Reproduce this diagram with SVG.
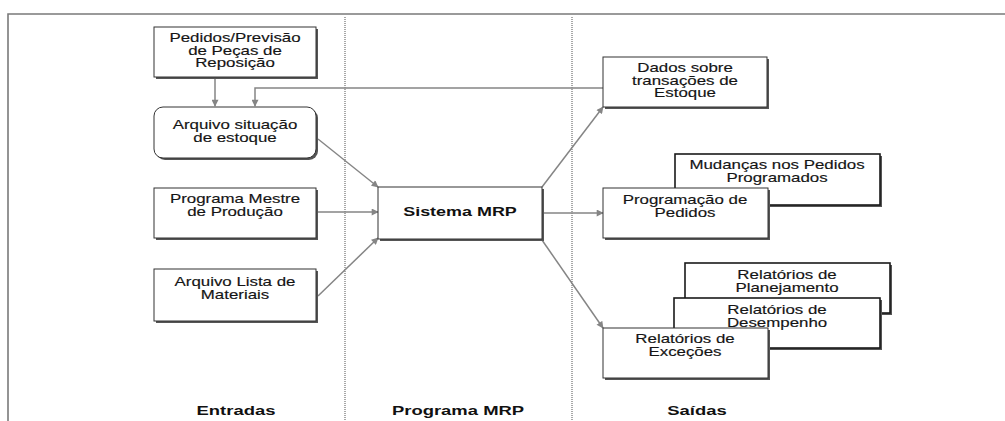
<svg xmlns="http://www.w3.org/2000/svg" width="1005" height="421" viewBox="0 0 1005 421">
<style>
.bg{fill:#ffffff}
.frame{stroke:#7a7a7a;stroke-width:1.6;fill:none}
.sep{stroke:#a8a8a8;stroke-width:2;stroke-dasharray:1 1;fill:none}
.sh{fill:#555555}
.box{fill:#ffffff;stroke:#333333;stroke-width:1}
.bk{fill:#ffffff;stroke:#1a1a1a;stroke-width:1.6}
.t{font-family:"Liberation Sans",Arial,sans-serif;font-size:12.5px;fill:#151515;stroke:#151515;stroke-width:0.15;text-anchor:middle}
.b{font-family:"Liberation Sans",Arial,sans-serif;font-size:13px;font-weight:bold;fill:#111111;text-anchor:middle}
.c{stroke:#858585;stroke-width:1.5;fill:none}
</style>
<defs>
<marker id="ah" viewBox="0 0 10 10" refX="9" refY="5" markerWidth="8" markerHeight="7" markerUnits="userSpaceOnUse" orient="auto">
<path d="M0,0 L10,5 L0,10 z" fill="#858585"/>
</marker>
</defs>
<rect class="bg" x="0" y="0" width="1005" height="421"/>
<g id="frame">
<path class="frame" d="M8,421 V14 H1005"/>
<line class="sep" x1="345" y1="17" x2="345" y2="421"/>
<line class="sep" x1="572" y1="17" x2="572" y2="421"/>
</g>
<g id="connectors">
<line class="c" x1="215" y1="78" x2="215" y2="106" marker-end="url(#ah)"/>
<path class="c" d="M603,88 H255 V106" marker-end="url(#ah)"/>
<line class="c" x1="318" y1="139" x2="378" y2="187" marker-end="url(#ah)"/>
<line class="c" x1="318" y1="212" x2="378" y2="212" marker-end="url(#ah)"/>
<line class="c" x1="318" y1="296" x2="378" y2="238" marker-end="url(#ah)"/>
<line class="c" x1="542" y1="187" x2="603" y2="107" marker-end="url(#ah)"/>
<line class="c" x1="544" y1="213" x2="603" y2="213" marker-end="url(#ah)"/>
<line class="c" x1="542" y1="240" x2="603" y2="328" marker-end="url(#ah)"/>
</g>
<g id="n-pedidos">
<rect class="sh" x="156" y="29" width="162" height="50"/>
<rect class="box" x="154" y="27" width="162" height="50"/>
<text class="t" transform="translate(235,42) scale(1.35,1)">Pedidos/Previsão</text>
<text class="t" transform="translate(235,54.5) scale(1.35,1)">de Peças de</text>
<text class="t" transform="translate(235,67) scale(1.35,1)">Reposição</text>
</g>
<g id="n-arquivo-estoque">
<rect class="sh" x="156" y="109" width="162" height="51" rx="9"/>
<rect class="box" x="154" y="107" width="162" height="51" rx="9"/>
<text class="t" transform="translate(235,129) scale(1.35,1)">Arquivo situação</text>
<text class="t" transform="translate(235,141.5) scale(1.35,1)">de estoque</text>
</g>
<g id="n-mestre">
<rect class="sh" x="156" y="190" width="162" height="50"/>
<rect class="box" x="154" y="188" width="162" height="50"/>
<text class="t" transform="translate(235,203) scale(1.35,1)">Programa Mestre</text>
<text class="t" transform="translate(235,215.5) scale(1.35,1)">de Produção</text>
</g>
<g id="n-lista">
<rect class="sh" x="156" y="271" width="162" height="52"/>
<rect class="box" x="154" y="269" width="162" height="52"/>
<text class="t" transform="translate(235,286) scale(1.35,1)">Arquivo Lista de</text>
<text class="t" transform="translate(235,298.5) scale(1.35,1)">Materiais</text>
</g>
<g id="n-mrp">
<rect class="sh" x="380" y="189" width="164" height="52"/>
<rect class="box" x="378" y="187" width="164" height="52"/>
<text class="b" transform="translate(460,216) scale(1.38,1)">Sistema MRP</text>
</g>
<g id="n-dados">
<rect class="sh" x="605" y="59" width="164" height="50"/>
<rect class="box" x="603" y="57" width="164" height="50"/>
<text class="t" transform="translate(685,72) scale(1.35,1)">Dados sobre</text>
<text class="t" transform="translate(685,84.5) scale(1.35,1)">transações de</text>
<text class="t" transform="translate(685,97) scale(1.35,1)">Estoque</text>
</g>
<g id="n-mudancas">
<rect class="sh" x="677" y="156" width="205" height="51"/>
<rect class="bk" x="675" y="154" width="205" height="51"/>
<text class="t" transform="translate(777,169) scale(1.35,1)">Mudanças nos Pedidos</text>
<text class="t" transform="translate(777,181.5) scale(1.35,1)">Programados</text>
</g>
<g id="n-programacao">
<rect class="sh" x="605" y="190" width="165" height="50"/>
<rect class="box" x="603" y="188" width="165" height="50"/>
<text class="t" transform="translate(685,204) scale(1.35,1)">Programação de</text>
<text class="t" transform="translate(685,216.5) scale(1.35,1)">Pedidos</text>
</g>
<g id="n-planejamento">
<rect class="sh" x="687" y="265" width="205" height="50"/>
<rect class="bk" x="685" y="263" width="205" height="50"/>
<text class="t" transform="translate(787,279) scale(1.35,1)">Relatórios de</text>
<text class="t" transform="translate(787,291.5) scale(1.35,1)">Planejamento</text>
</g>
<g id="n-desempenho">
<rect class="sh" x="676" y="300" width="206" height="50"/>
<rect class="bk" x="674" y="298" width="206" height="50"/>
<text class="t" transform="translate(777,314) scale(1.35,1)">Relatórios de</text>
<text class="t" transform="translate(777,326.5) scale(1.35,1)">Desempenho</text>
</g>
<g id="n-excecoes">
<rect class="sh" x="605" y="330" width="165" height="50"/>
<rect class="box" x="603" y="328" width="165" height="50"/>
<text class="t" transform="translate(685,343) scale(1.35,1)">Relatórios de</text>
<text class="t" transform="translate(685,355.5) scale(1.35,1)">Exceções</text>
</g>
<g id="headers">
<text class="b" transform="translate(236,415) scale(1.42,1)">Entradas</text>
<text class="b" transform="translate(458,415) scale(1.42,1)">Programa MRP</text>
<text class="b" transform="translate(697,415) scale(1.42,1)">Saídas</text>
</g>
</svg>
